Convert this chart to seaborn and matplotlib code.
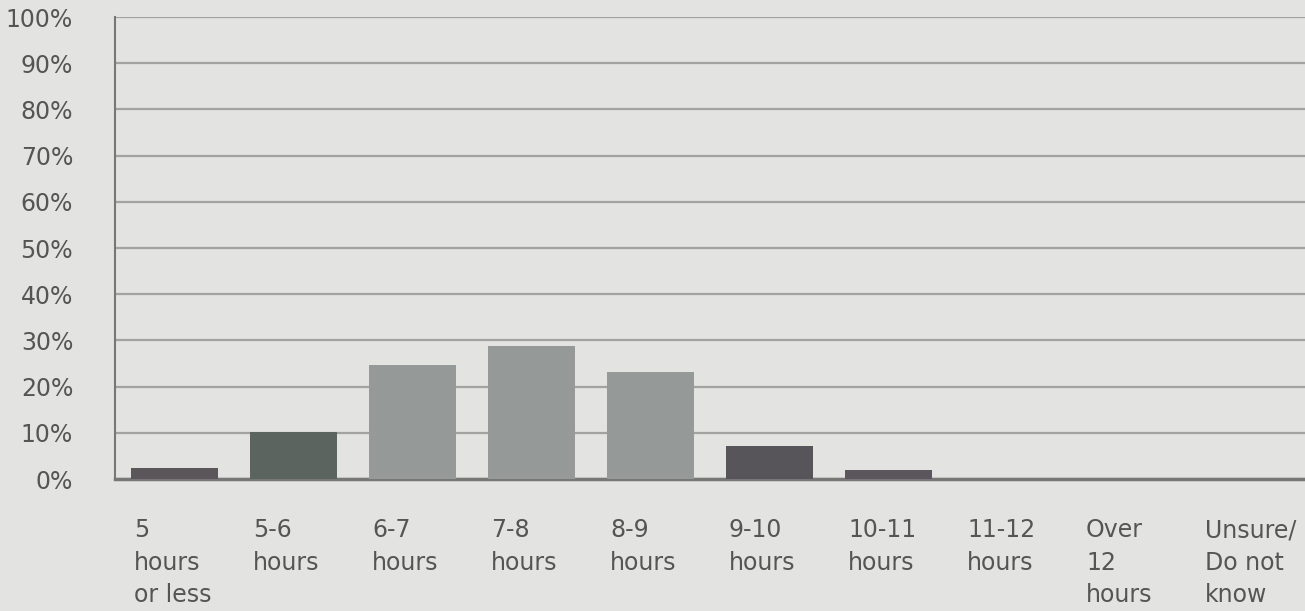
import seaborn as sns
import matplotlib.pyplot as plt
import matplotlib.transforms as mtransforms
import pandas as pd

# survey answers (share of respondents, %)
categories = ["5\nhours\nor less", "5-6\nhours", "6-7\nhours", "7-8\nhours", "8-9\nhours",
              "9-10\nhours", "10-11\nhours", "11-12\nhours", "Over\n12\nhours", "Unsure/\nDo not\nknow"]
values = [2.4, 10.2, 24.7, 28.8, 23.2, 7.1, 2.0, 0, 0, 0]
bar_colors = ["#5b5659", "#5c6460", "#959997", "#959997", "#959997",
              "#57545a", "#5a565b", "#5a565b", "#5a565b", "#5a565b"]
yticks = list(range(0, 101, 10))

bg = "#e3e3e1"
txt = "#555555"

sns.set_style("white")
plt.rcParams['font.family'] = ['DejaVu Sans']

df = pd.DataFrame({"cat": categories, "val": values})

fig = plt.figure(figsize=(13.05, 6.11), dpi=100)
fig.patch.set_facecolor(bg)
ax = fig.add_axes([0.088, 0.216, 0.912, 0.756])
ax.set_facecolor(bg)

sns.barplot(data=df, x="cat", y="val", hue="cat", palette=bar_colors, legend=False,
            width=0.73, saturation=1, linewidth=0, ax=ax, zorder=3)

ax.set_xlim(-0.5, 9.5)
ax.set_ylim(0, 100)
ax.set_yticks(yticks)
ax.set_yticklabels([f"{t}%" for t in yticks], fontsize=17, color=txt)
ax.yaxis.grid(True, color="#a2a2a2", linewidth=1.6, zorder=0)
ax.set_axisbelow(True)
ax.set(xlabel="", ylabel="")

# category labels, left aligned at the bar's left edge
ax.set_xticks(range(len(categories)))
ax.set_xticklabels([])
trans = mtransforms.blended_transform_factory(ax.transData, ax.transAxes)
for i, lab in enumerate(categories):
    ax.text(i - 0.34, -0.085, lab, transform=trans, ha="left", va="top",
            fontsize=17, color=txt, linespacing=1.45)

ax.tick_params(axis="x", length=0)
ax.tick_params(axis="y", length=0, pad=30)

sns.despine(ax=ax, top=True, right=True)
ax.spines["left"].set_color("#777777")
ax.spines["left"].set_linewidth(1.5)
ax.spines["bottom"].set_color("#777777")
ax.spines["bottom"].set_linewidth(2.5)

fig.savefig("out.png", dpi=100, facecolor=bg)
